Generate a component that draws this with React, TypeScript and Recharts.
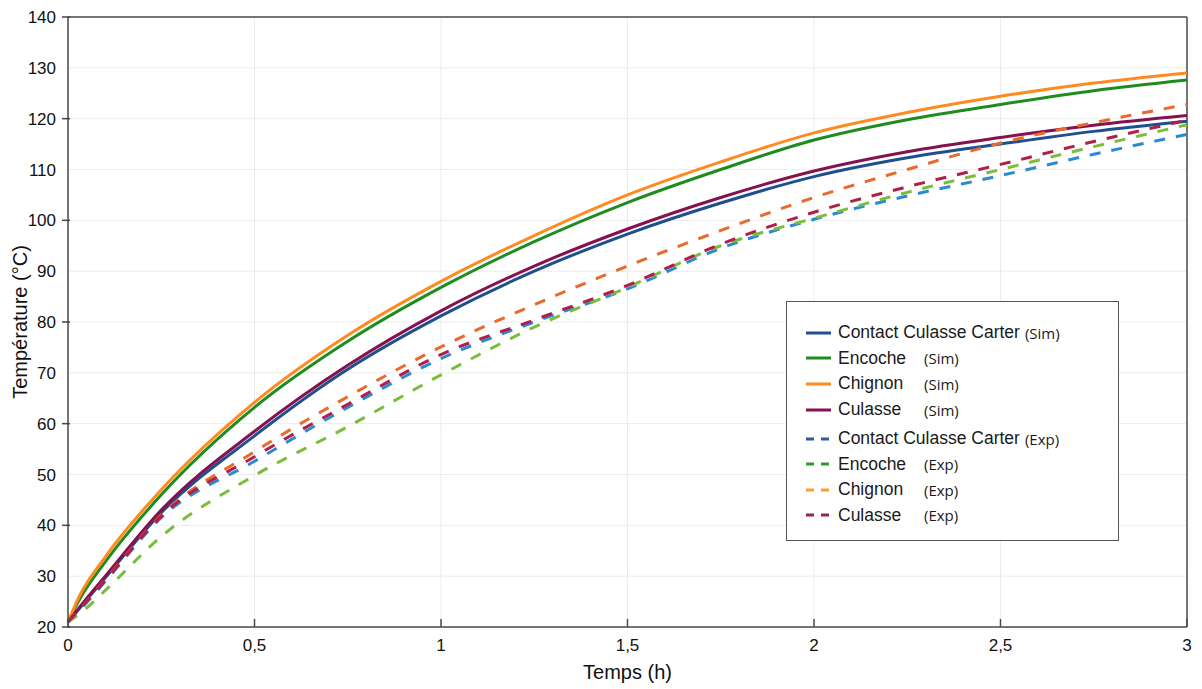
import React from "react";
import {
  LineChart, Line, XAxis, YAxis, CartesianGrid, ReferenceLine,
} from "recharts";

const TIME = [0, 0.03, 0.1, 0.25, 0.5, 0.75, 1, 1.25, 1.5, 1.75, 2, 2.25, 2.5, 2.75, 3];

const contactSim = [21, 23.6, 29.7, 42.5, 57.6, 70.7, 81.2, 90, 97.3, 103.4, 108.6, 112.3, 115, 117.5, 119.5];
const encocheSim = [21, 25.3, 32.8, 46, 63.2, 76.2, 86.8, 95.8, 103.5, 110, 115.8, 119.8, 122.8, 125.5, 127.6];
const chignonSim = [21, 26, 33.8, 47, 64.2, 77.4, 88, 97, 105, 111.5, 117.2, 121.2, 124.4, 127, 129];
const culasseSim = [21, 23.8, 30, 43, 58.5, 71.5, 82.2, 91, 98.3, 104.5, 109.7, 113.5, 116.3, 118.7, 120.6];

const contactExp = [21, 23.2, 29, 41.5, 52.6, 63.2, 72.8, 80, 86.5, 94.5, 100.2, 104.8, 108.8, 113, 116.9];
const encocheExp = [21, 22.5, 27.2, 37.8, 49.8, 59.4, 69.6, 79, 86.8, 95, 100.4, 105.5, 110, 114.5, 118.8];
const chignonExp = [21, 23.4, 29.3, 42, 54.5, 65.3, 75.1, 83.4, 91, 98, 104.5, 110, 115.2, 119.2, 122.8];
const culasseExp = [21, 23.4, 29.2, 41.8, 53.5, 63.8, 73.6, 80.4, 87.2, 95.3, 101.6, 106.6, 111, 115.5, 119.7];

const X_TICKS = [0, 0.5, 1, 1.5, 2, 2.5, 3];
const Y_TICKS = [20, 30, 40, 50, 60, 70, 80, 90, 100, 110, 120, 130, 140];

type Serie = {
  key: string;
  name: string;
  tag: string;
  values: number[];
  color: string;
  legendColor: string;
  dashed: boolean;
};

const SERIES: Serie[] = [
  { key: "contactSim", name: "Contact Culasse Carter", tag: "(Sim)", values: contactSim, color: "#1f4f8f", legendColor: "#1f4f8f", dashed: false },
  { key: "encocheSim", name: "Encoche", tag: "(Sim)", values: encocheSim, color: "#1e8c1e", legendColor: "#1e8c1e", dashed: false },
  { key: "chignonSim", name: "Chignon", tag: "(Sim)", values: chignonSim, color: "#ff8a1f", legendColor: "#ff8a1f", dashed: false },
  { key: "culasseSim", name: "Culasse", tag: "(Sim)", values: culasseSim, color: "#86114f", legendColor: "#86114f", dashed: false },
  { key: "contactExp", name: "Contact Culasse Carter", tag: "(Exp)", values: contactExp, color: "#2a8ad4", legendColor: "#2f5c9c", dashed: true },
  { key: "encocheExp", name: "Encoche", tag: "(Exp)", values: encocheExp, color: "#7bbd3b", legendColor: "#2a9a2a", dashed: true },
  { key: "chignonExp", name: "Chignon", tag: "(Exp)", values: chignonExp, color: "#e86a2c", legendColor: "#ff9a3a", dashed: true },
  { key: "culasseExp", name: "Culasse", tag: "(Exp)", values: culasseExp, color: "#b01f48", legendColor: "#9a2055", dashed: true },
];

const data = TIME.map((t, i) => {
  const row: Record<string, number> = { t };
  SERIES.forEach((s) => { row[s.key] = s.values[i]; });
  return row;
});

const FONT = "'Liberation Sans', Arial, sans-serif";

function YTick(props: any) {
  const { x, y, payload } = props;
  return (
    <g>
      <text x={x} y={y} dy={6} textAnchor="end" fontSize={17} fill="#111" fontFamily={FONT}>{payload.value}</text>
      {payload.value % 20 === 0 && <line x1={x + 6} x2={x + 14} y1={y} y2={y} stroke="#444" strokeWidth={1.5} />}
    </g>
  );
}

function LegendBox() {
  return (
    <div style={{ position: "absolute", left: 786, top: 301, width: 333, height: 240, boxSizing: "border-box", border: "1.5px solid #555", background: "#fff", paddingTop: 18 }}>
      {SERIES.map((s, i) => (
        <div key={s.key} style={{ height: 25.6, display: "flex", alignItems: "center", marginTop: i === 4 ? 3.5 : 0 }}>
          <svg width={51} height={10} style={{ flex: "none" }}>
            <line x1={19} x2={44} y1={5} y2={5} stroke={s.legendColor} strokeWidth={3} strokeDasharray={s.dashed ? "8 7" : undefined} />
          </svg>
          <span style={{ display: "inline-block", boxSizing: "border-box", minWidth: 86, paddingRight: 5, fontFamily: FONT, fontSize: 17.5, color: "#1a1a1a", whiteSpace: "nowrap" }}>{s.name}</span>
          <span style={{ fontFamily: "'Open Sans', sans-serif", fontSize: 15, color: "#1a1a1a" }}>{s.tag}</span>
        </div>
      ))}
    </div>
  );
}

export default function App() {
  return (
    <div style={{ position: "absolute", left: 0, top: 0, width: 1202, height: 689, background: "#fff" }}>
      <LineChart width={1202} height={689} data={data} margin={{ top: 17, right: 15, bottom: 0, left: 0 }} style={{ fontFamily: FONT }}>
        <CartesianGrid stroke="#ececec" strokeWidth={1} />
        <XAxis
          dataKey="t" type="number" domain={[0, 3]} ticks={X_TICKS} height={62}
          tickFormatter={(v: number) => String(v).replace(".", ",")}
          tick={{ fontSize: 17, fill: "#111" }}
          tickSize={-8} tickMargin={20}
          stroke="#4a4a4a" strokeWidth={1.5}
          label={{ value: "Temps (h)", position: "insideBottom", offset: 10, style: { fontSize: 20, fill: "#111" } }}
        />
        <YAxis
          type="number" domain={[20, 140]} ticks={Y_TICKS} width={68}
          tick={<YTick />} tickLine={false} tickMargin={6}
          stroke="#4a4a4a" strokeWidth={1.5}
          label={{ value: "Température (°C)", angle: -90, position: "insideLeft", offset: 20, style: { textAnchor: "middle", fontSize: 20, fill: "#111" } }}
        />
        <ReferenceLine y={140} stroke="#4a4a4a" strokeWidth={1.5} />
        <ReferenceLine x={3} stroke="#4a4a4a" strokeWidth={1.5} />
        {SERIES.map((s) => (
          <Line
            key={s.key} dataKey={s.key} name={s.name} type="monotone"
            stroke={s.color} strokeWidth={3} dot={false}
            strokeDasharray={s.dashed ? "11 11" : undefined}
            isAnimationActive={false}
          />
        ))}
      </LineChart>
      <LegendBox />
    </div>
  );
}
